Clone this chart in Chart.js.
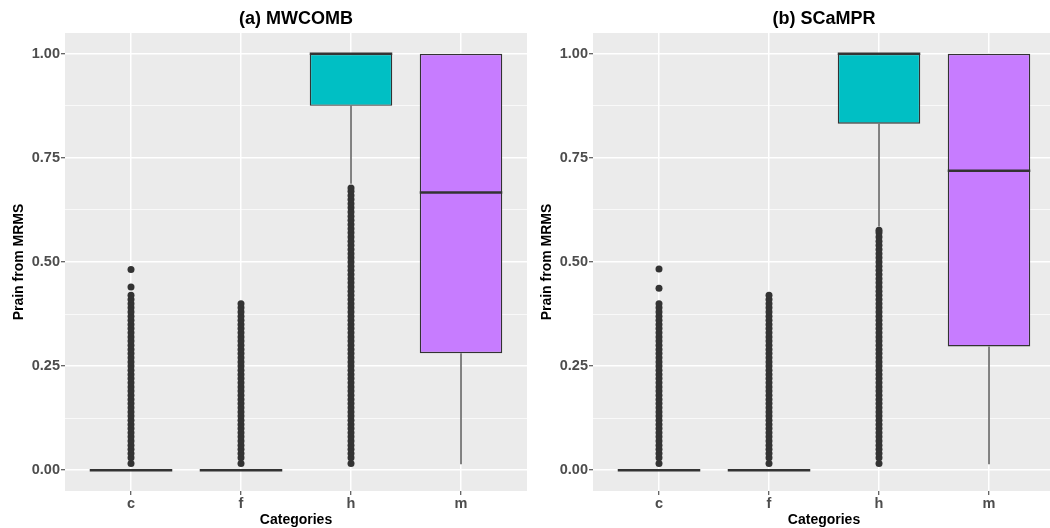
<!DOCTYPE html>
<html>
<head>
<meta charset="utf-8">
<script src="https://cdn.jsdelivr.net/npm/chart.js@4.4.0/dist/chart.umd.min.js"></script>
<style>
  html, body { margin: 0; padding: 0; background: #fff; overflow: hidden; }
  #wrap { position: relative; width: 1050px; height: 528px; overflow: hidden; }
  canvas { position: absolute; top: 0; }
</style>
</head>
<body>
<div id="wrap">
  <canvas id="chartA" width="535" height="528" style="left:0"></canvas>
  <canvas id="chartB" width="535" height="528" style="left:528px"></canvas>
</div>
<script>
// categories and box colours
const categories = ["c", "f", "h", "m"];
const boxColors = ["#F8766D", "#7CAE00", "#00BFC4", "#C77CFF"];
const yTicks = [0, 0.125, 0.25, 0.375, 0.5, 0.625, 0.75, 0.875, 1];

// (a) MWCOMB
const aQ1 = [0, 0, 0.875, 0.281];
const aMed = [0, 0, 1.0, 0.667];
const aQ3 = [0, 0, 1.0, 1.0];
const aLow = [0, 0, 0.688, 0.014];
const aHigh = [0, 0, 1.0, 1.0];
const aOutC = [0.016, 0.03, 0.04, 0.05, 0.06, 0.07, 0.08, 0.09, 0.1, 0.11, 0.12, 0.13, 0.14, 0.15, 0.16, 0.17, 0.18, 0.19, 0.2, 0.21, 0.22, 0.23, 0.24, 0.25, 0.26, 0.27, 0.28, 0.29, 0.3, 0.31, 0.32, 0.33, 0.34, 0.35, 0.36, 0.37, 0.38, 0.39, 0.4, 0.41, 0.42, 0.44, 0.482];
const aOutF = [0.016, 0.03, 0.04, 0.05, 0.06, 0.07, 0.08, 0.09, 0.1, 0.11, 0.12, 0.13, 0.14, 0.15, 0.16, 0.17, 0.18, 0.19, 0.2, 0.21, 0.22, 0.23, 0.24, 0.25, 0.26, 0.27, 0.28, 0.29, 0.3, 0.31, 0.32, 0.33, 0.34, 0.35, 0.36, 0.37, 0.38, 0.39, 0.4];
const aOutH = [0.016, 0.03, 0.04, 0.05, 0.06, 0.07, 0.08, 0.09, 0.1, 0.11, 0.12, 0.13, 0.14, 0.15, 0.16, 0.17, 0.18, 0.19, 0.2, 0.21, 0.22, 0.23, 0.24, 0.25, 0.26, 0.27, 0.28, 0.29, 0.3, 0.31, 0.32, 0.33, 0.34, 0.35, 0.36, 0.37, 0.38, 0.39, 0.4, 0.41, 0.42, 0.43, 0.44, 0.45, 0.46, 0.47, 0.48, 0.49, 0.5, 0.51, 0.52, 0.53, 0.54, 0.55, 0.56, 0.57, 0.58, 0.59, 0.6, 0.61, 0.62, 0.63, 0.64, 0.65, 0.66, 0.67, 0.678];
const aOutM = [];

// (b) SCaMPR
const bQ1 = [0, 0, 0.832, 0.297];
const bMed = [0, 0, 1.0, 0.719];
const bQ3 = [0, 0, 1.0, 1.0];
const bLow = [0, 0, 0.585, 0.014];
const bHigh = [0, 0, 1.0, 1.0];
const bOutC = [0.016, 0.03, 0.04, 0.05, 0.06, 0.07, 0.08, 0.09, 0.1, 0.11, 0.12, 0.13, 0.14, 0.15, 0.16, 0.17, 0.18, 0.19, 0.2, 0.21, 0.22, 0.23, 0.24, 0.25, 0.26, 0.27, 0.28, 0.29, 0.3, 0.31, 0.32, 0.33, 0.34, 0.35, 0.36, 0.37, 0.38, 0.39, 0.4, 0.437, 0.483];
const bOutF = [0.016, 0.03, 0.04, 0.05, 0.06, 0.07, 0.08, 0.09, 0.1, 0.11, 0.12, 0.13, 0.14, 0.15, 0.16, 0.17, 0.18, 0.19, 0.2, 0.21, 0.22, 0.23, 0.24, 0.25, 0.26, 0.27, 0.28, 0.29, 0.3, 0.31, 0.32, 0.33, 0.34, 0.35, 0.36, 0.37, 0.38, 0.39, 0.4, 0.41, 0.42];
const bOutH = [0.016, 0.03, 0.04, 0.05, 0.06, 0.07, 0.08, 0.09, 0.1, 0.11, 0.12, 0.13, 0.14, 0.15, 0.16, 0.17, 0.18, 0.19, 0.2, 0.21, 0.22, 0.23, 0.24, 0.25, 0.26, 0.27, 0.28, 0.29, 0.3, 0.31, 0.32, 0.33, 0.34, 0.35, 0.36, 0.37, 0.38, 0.39, 0.4, 0.41, 0.42, 0.43, 0.44, 0.45, 0.46, 0.47, 0.48, 0.49, 0.5, 0.51, 0.52, 0.53, 0.54, 0.55, 0.56, 0.57, 0.576];
const bOutM = [];

const FONT = "'Liberation Sans', Arial, Helvetica, sans-serif";
const DARK = "#333333";
const HALF_BOX = 0.375;

const panelBg = {
  id: "panelBg",
  beforeDraw(chart) {
    const { ctx, chartArea: a } = chart;
    ctx.save();
    ctx.fillStyle = "#EBEBEB";
    ctx.fillRect(a.left, a.top, a.right - a.left, a.bottom - a.top);
    ctx.restore();
  }
};

function isMajor(v) {
  return Math.abs(v * 4 - Math.round(v * 4)) < 1e-6;
}

function makeChart(id, title, q1, med, q3, low, high, outs) {
  const datasets = [];
  const axes = { xAxisID: "x", yAxisID: "y" };
  datasets.push({
    ...axes,
    type: "bar",
    data: categories.map((c, i) => ({ x: i + 1, y: [q1[i], q3[i]] })),
    backgroundColor: boxColors,
    borderColor: DARK,
    borderWidth: 1.4,
    borderSkipped: false,
    barPercentage: 0.75,
    categoryPercentage: 1,
    order: 4
  });
  categories.forEach((c, i) => {
    if (low[i] < q1[i]) {
      datasets.push({
        ...axes, type: "line",
        data: [{ x: i + 1, y: q1[i] }, { x: i + 1, y: low[i] }],
        borderColor: DARK, borderWidth: 1.2, pointRadius: 0, order: 3
      });
    }
    if (high[i] > q3[i]) {
      datasets.push({
        ...axes, type: "line",
        data: [{ x: i + 1, y: q3[i] }, { x: i + 1, y: high[i] }],
        borderColor: DARK, borderWidth: 1.2, pointRadius: 0, order: 3
      });
    }
    datasets.push({
      ...axes, type: "line",
      data: [{ x: i + 1 - HALF_BOX, y: med[i] }, { x: i + 1 + HALF_BOX, y: med[i] }],
      borderColor: DARK, borderWidth: 2.6, pointRadius: 0, order: 2
    });
  });
  const pts = [];
  outs.forEach((arr, i) => arr.forEach(v => pts.push({ x: i + 1, y: v })));
  datasets.push({
    ...axes, type: "scatter",
    data: pts,
    backgroundColor: DARK,
    borderWidth: 0,
    pointRadius: 3.5,
    order: 1
  });

  return new Chart(document.getElementById(id), {
    type: "bar",
    data: { datasets },
    plugins: [panelBg],
    options: {
      responsive: false,
      animation: false,
      devicePixelRatio: 1,
      layout: { padding: { left: 0, right: 8, top: 0, bottom: 0 } },
      plugins: { legend: { display: false }, tooltip: { enabled: false } },
      scales: {
        x: {
          type: "linear", position: "bottom", min: 0.4, max: 4.6, offset: false,
          afterBuildTicks(s) { s.ticks = categories.map((c, i) => ({ value: i + 1 })); },
          afterFit(s) { s.height = 37; },
          grid: { offset: false, color: "#FFFFFF", lineWidth: 1.5, tickColor: DARK, tickLength: 4, tickWidth: 1 },
          border: { display: false },
          ticks: {
            color: "#4D4D4D", padding: 0,
            font: { family: FONT, size: 14.5, weight: "bold" },
            callback: v => categories[Math.round(v) - 1]
          },
          title: { display: true, text: "Categories", color: "#000",
            font: { family: FONT, size: 14, weight: "bold" }, padding: { top: 0, bottom: -1 } }
        },
        y: {
          type: "linear", position: "left", min: -0.05, max: 1.05,
          afterBuildTicks(s) { s.ticks = yTicks.map(v => ({ value: v })); },
          afterFit(s) { s.width = 65; },
          grid: {
            color: "#FFFFFF",
            lineWidth: ctx => (ctx.tick && isMajor(ctx.tick.value)) ? 1.5 : 0.7,
            tickColor: ctx => (ctx.tick && isMajor(ctx.tick.value)) ? DARK : "rgba(0,0,0,0)",
            tickLength: 4, tickWidth: 1
          },
          border: { display: false },
          ticks: {
            color: "#4D4D4D", padding: 1,
            font: { family: FONT, size: 14.5, weight: "bold" },
            callback: v => isMajor(v) ? v.toFixed(2) : ""
          },
          title: { display: true, text: "Prain from MRMS", color: "#000",
            font: { family: FONT, size: 14, weight: "bold" }, padding: { top: 10.6, bottom: 0 } }
        },
        t: {
          type: "linear", position: "top", min: 0, max: 1,
          grid: { display: false, drawTicks: false },
          ticks: { display: false },
          border: { display: false },
          title: { display: true, text: title, color: "#000",
            font: { family: FONT, size: 18, weight: "bold" }, padding: { top: 8, bottom: 0 } },
          afterFit(s) { s.height = 33; }
        }
      }
    }
  });
}

makeChart("chartA", "(a) MWCOMB", aQ1, aMed, aQ3, aLow, aHigh, [aOutC, aOutF, aOutH, aOutM]);
makeChart("chartB", "(b) SCaMPR", bQ1, bMed, bQ3, bLow, bHigh, [bOutC, bOutF, bOutH, bOutM]);
</script>
</body>
</html>
